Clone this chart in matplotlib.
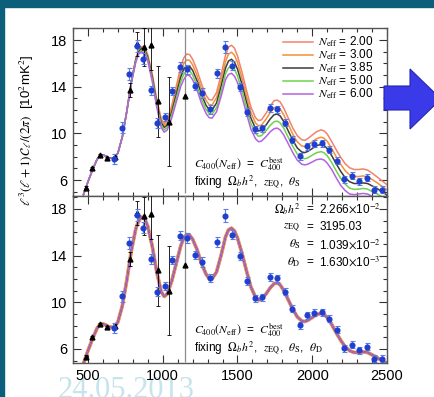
import matplotlib
matplotlib.use("Agg")
import matplotlib.pyplot as plt
from matplotlib.patches import Polygon, Rectangle
from matplotlib.ticker import MultipleLocator, FixedLocator, NullFormatter

plt.rcParams['font.family'] = ['Liberation Sans', 'DejaVu Sans']
plt.rcParams['mathtext.fontset'] = 'stix'

# multipole grid shared by all model curves
ell = [470, 500, 530, 560, 580, 600, 620, 640, 670, 700, 730, 760, 790, 820, 840,
       860, 880, 900, 930, 960, 990, 1010, 1030, 1060, 1090, 1120, 1140, 1160, 1180,
       1200, 1230, 1260, 1290, 1310, 1330, 1360, 1390, 1420, 1440, 1460, 1480, 1500,
       1530, 1560, 1590, 1620, 1640, 1660, 1690, 1720, 1745, 1765, 1785, 1810, 1840,
       1870, 1900, 1930, 1950, 1970, 2000, 2030, 2060, 2080, 2100, 2130, 2160, 2190,
       2220, 2250, 2280, 2310, 2340, 2370, 2400, 2430, 2460, 2490, 2500]

_low = [4.75, 5.85, 6.85, 7.75, 8.1, 8.15, 8.05, 7.9, 7.85, 8.3, 9.7, 11.9]

# model spectra for different N_eff (top panel)
neff_200 = _low + [14.45, 16.4, 17.12, 17.45, 17.35, 16.75, 15.1, 12.93, 11.25, 10.85, 11.1,
                   12.35, 14.0, 15.65, 16.45, 16.8, 16.75, 16.35, 15.4, 14.2, 13.25, 12.9,
                   12.85, 13.5, 15.0, 16.7, 17.4, 17.55, 17.3, 16.65, 15.25, 13.7, 12.25,
                   11.35, 11.1, 11.15, 11.7, 12.35, 12.8, 12.85, 12.7, 12.15, 11.3, 10.45,
                   9.8, 9.45, 9.4, 9.55, 9.85, 10.15, 10.3, 10.2, 9.95, 9.3, 8.6, 7.95,
                   7.4, 7.05, 6.9, 6.9, 6.95, 6.85, 6.6, 6.3, 6.0, 5.7, 5.6]
neff_300 = _low + [14.42, 16.35, 17.06, 17.38, 17.25, 16.62, 14.95, 12.77, 11.08, 10.68, 10.9,
                   12.08, 13.65, 15.22, 15.97, 16.3, 16.25, 15.87, 14.95, 13.75, 12.82, 12.47,
                   12.43, 13.05, 14.5, 16.15, 16.8, 16.95, 16.7, 16.07, 14.72, 13.2, 11.77,
                   10.9, 10.65, 10.7, 11.2, 11.8, 12.2, 12.25, 12.1, 11.57, 10.75, 9.92,
                   9.27, 8.92, 8.87, 9.0, 9.27, 9.55, 9.67, 9.57, 9.32, 8.7, 8.0, 7.35,
                   6.8, 6.45, 6.3, 6.3, 6.35, 6.27, 6.05, 5.8, 5.52, 5.25, 5.15]
neff_385 = _low + [14.4, 16.3, 17.0, 17.3, 17.15, 16.5, 14.8, 12.6, 10.9, 10.5, 10.7,
                   11.8, 13.3, 14.8, 15.5, 15.8, 15.75, 15.4, 14.5, 13.3, 12.4, 12.05,
                   12.0, 12.6, 14.0, 15.6, 16.2, 16.35, 16.1, 15.5, 14.2, 12.7, 11.3,
                   10.45, 10.2, 10.25, 10.7, 11.25, 11.6, 11.65, 11.5, 11.0, 10.2, 9.4,
                   8.75, 8.4, 8.35, 8.45, 8.7, 8.95, 9.05, 8.95, 8.7, 8.1, 7.4, 6.75,
                   6.2, 5.85, 5.7, 5.7, 5.75, 5.7, 5.5, 5.3, 5.05, 4.8, 4.7]
neff_500 = _low + [14.35, 16.2, 16.9, 17.15, 17.0, 16.35, 14.62, 12.42, 10.7, 10.3, 10.5,
                   11.55, 12.95, 14.4, 15.05, 15.4, 15.35, 15.0, 14.1, 12.92, 12.05, 11.7,
                   11.65, 12.2, 13.55, 15.1, 15.62, 15.75, 15.5, 14.92, 13.68, 12.2, 10.83,
                   10.0, 9.75, 9.8, 10.2, 10.7, 11.0, 11.05, 10.9, 10.43, 9.65, 8.88,
                   8.23, 7.88, 7.83, 7.9, 8.13, 8.35, 8.43, 8.33, 8.08, 7.5, 6.8, 6.15,
                   5.65, 5.3, 5.2, 5.22, 5.28, 5.22, 5.02, 4.85, 4.6, 4.35, 4.25]
neff_600 = _low + [14.3, 16.1, 16.8, 17.0, 16.85, 16.2, 14.45, 12.25, 10.5, 10.1, 10.28,
                   11.3, 12.65, 14.0, 14.6, 15.0, 14.95, 14.6, 13.7, 12.55, 11.7, 11.35,
                   11.3, 11.85, 13.15, 14.6, 15.05, 15.15, 14.9, 14.35, 13.15, 11.7, 10.35,
                   9.55, 9.28, 9.33, 9.7, 10.15, 10.4, 10.45, 10.3, 9.85, 9.1, 8.35,
                   7.7, 7.35, 7.3, 7.35, 7.55, 7.75, 7.8, 7.7, 7.45, 6.9, 6.2, 5.55,
                   5.1, 4.8, 4.75, 4.8, 4.85, 4.8, 4.6, 4.45, 4.2, 3.95, 3.85]

# refit spectrum (bottom panel); all N_eff models collapse onto it
refit = neff_385

neff_labels = ['2.00', '3.00', '3.85', '5.00', '6.00']
neff_colors = ['#f2826a', '#f0913c', '#3c3c3c', '#6fd24e', '#b462e4']

# high-ell band powers (blue circles)
spt_ell = [675, 725, 775, 825, 870, 920, 965, 1015, 1065, 1115, 1165, 1215, 1265, 1315,
           1365, 1415, 1465, 1515, 1565, 1615, 1665, 1715, 1765, 1815, 1865, 1915, 1965,
           2015, 2065, 2115, 2165, 2215, 2265, 2315, 2365, 2415, 2465]
spt_val = [7.8, 10.5, 15.1, 17.5, 16.4, 13.7, 10.9, 11.4, 13.6, 15.7, 15.5, 14.05, 13.45,
           12.05, 15.15, 17.4, 15.8, 13.95, 11.8, 10.35, 10.45, 12.15, 12.05, 10.9, 9.45,
           8.05, 8.9, 9.1, 9.15, 8.6, 7.65, 6.05, 6.35, 5.9, 6.2, 5.15, 5.15]
spt_err = [0.45, 0.45, 0.5, 0.5, 0.45, 0.4, 0.4, 0.35, 0.35, 0.4, 0.4, 0.35, 0.4, 0.35,
           0.4, 0.55, 0.4, 0.35, 0.35, 0.3, 0.3, 0.35, 0.3, 0.3, 0.3, 0.3, 0.3, 0.3,
           0.3, 0.3, 0.3, 0.3, 0.3, 0.3, 0.3, 0.3, 0.3]

# lower-ell band powers (black triangles)
wmap_ell = [488, 530, 578, 627, 678, 780, 830, 875, 922, 970, 1045]
wmap_val = [5.35, 7.05, 8.15, 7.85, 7.95, 13.7, 17.65, 17.4, 17.6, 12.75, 11.0]
wmap_err = [0.1, 0.1, 0.1, 0.1, 0.15, 0.6, 1.0, 1.6, 2.2, 3.05, 3.8]

# single very uncertain point (grey)
wide_ell = [1150]
wide_val = [13.2]
wide_err = [8.3]

x_ticks = [500, 1000, 1500, 2000, 2500]
y_ticks = [6, 10, 14, 18]

W, H = 434, 397
fig = plt.figure(figsize=(W / 100, H / 100), dpi=100)

# slide decoration
fig.patches.append(Rectangle((0, 1 - 7 / H), 1, 7 / H, transform=fig.transFigure,
                             color='#0c5f7b', zorder=-5))
fig.patches.append(Rectangle((0, 0), 4 / W, 1, transform=fig.transFigure,
                             color='#0c5f7b', zorder=-5))
arrow_px = [(384, 86), (410, 86), (410, 69), (441, 99), (410, 129), (410, 110), (384, 110)]
fig.patches.append(Polygon([(x / W, 1 - y / H) for x, y in arrow_px], closed=True,
                           transform=fig.transFigure, facecolor='#3a3ae8',
                           edgecolor='#2626b8', lw=0.8, zorder=5))
fig.text(58 / W, 1 - 398 / H, '24.05.2013', family='Liberation Serif', fontsize=22,
         color='#c6e4ec', ha='left', va='baseline', zorder=-1)

ax_top = fig.add_axes([73 / W, 1 - 196 / H, 314 / W, 168 / H])
ax_bot = fig.add_axes([73 / W, 1 - 363 / H, 314 / W, 167 / H])


def style_axes(ax, ylim, show_x):
    ax.set_xlim(400, 2500)
    ax.set_ylim(*ylim)
    ax.xaxis.set_major_locator(FixedLocator(x_ticks))
    ax.xaxis.set_minor_locator(MultipleLocator(100))
    ax.yaxis.set_major_locator(FixedLocator(y_ticks))
    ax.yaxis.set_minor_locator(MultipleLocator(1))
    ax.tick_params(which='both', direction='in', top=True, right=True,
                   color='#333333', width=0.8)
    ax.tick_params(which='major', length=6, labelsize=10.5, pad=4)
    ax.tick_params(which='minor', length=3)
    if not show_x:
        ax.xaxis.set_major_formatter(NullFormatter())
    for s in ax.spines.values():
        s.set_color('#555555')
        s.set_linewidth(1.0)


def draw_data(ax):
    ax.errorbar(wide_ell, wide_val, yerr=wide_err, fmt='^', color='#8c8c8c', ms=3.5,
                mfc='black', mec='black', elinewidth=0.9, capsize=0, zorder=3)
    ax.errorbar(wmap_ell, wmap_val, yerr=wmap_err, fmt='^', color='black', ms=3.5,
                elinewidth=0.6, capsize=1.6, capthick=0.6, zorder=4)
    ax.errorbar(spt_ell, spt_val, yerr=spt_err, fmt='o', color='#1f3fd0', ms=3.4,
                ecolor='#5b7de6', elinewidth=0.8, capsize=1.8, capthick=0.8, zorder=5)


style_axes(ax_top, (4.63, 19.03), False)
style_axes(ax_bot, (4.8, 19.1), True)


def to_top(px, py):
    return (px - 73) / 314, (196 - py) / 168


top_curves = [neff_200, neff_300, neff_385, neff_500, neff_600]
for k, (vals, col, lab) in enumerate(zip(top_curves, neff_colors, neff_labels)):
    ax_top.plot(ell, vals, color=col, lw=1.1, zorder=2)
    # legend entry
    row_y = 42 + 13 * k
    x0, y0 = to_top(283, row_y)
    x1, _ = to_top(313, row_y)
    ax_top.plot([x0, x1], [y0, y0], color=col, lw=1.1, transform=ax_top.transAxes)
    xt, _ = to_top(318, row_y)
    ax_top.text(xt, y0, r'$N_{\rm eff}$ = ' + lab, transform=ax_top.transAxes,
                fontsize=8.5, ha='left', va='center')
draw_data(ax_top)

# bottom panel: the models overlap into a single band
bot_widths = [2.6, 2.1, 1.0, 1.0, 1.0]
bot_order = [0, 1, 3, 2, 4]
for i in bot_order:
    ax_bot.plot(ell, refit, color=neff_colors[i], lw=bot_widths[i], zorder=2)
draw_data(ax_bot)

ax_top.text(0.385, 0.195, r'$C_{400}(N_{\rm eff})$  =  $C_{400}^{\rm best}$',
            transform=ax_top.transAxes, fontsize=8.5, ha='left', va='center')
ax_top.text(0.385, 0.085, r'fixing  $\Omega_b h^2$,  $z_{\rm EQ}$,  $\theta_{\rm S}$',
            transform=ax_top.transAxes, fontsize=8.5, ha='left', va='center')

ax_bot.text(0.385, 0.2, r'$C_{400}(N_{\rm eff})$  =  $C_{400}^{\rm best}$',
            transform=ax_bot.transAxes, fontsize=8.5, ha='left', va='center')
ax_bot.text(0.385, 0.09,
            r'fixing  $\Omega_b h^2$,  $z_{\rm EQ}$,  $\theta_{\rm S}$,  $\theta_{\rm D}$',
            transform=ax_bot.transAxes, fontsize=8.5, ha='left', va='center')

par_left = [r'$\Omega_b h^2$', r'$z_{\rm EQ}$', r'$\theta_{\rm S}$', r'$\theta_{\rm D}$']
par_right = [r'2.266$\times$10$^{-2}$', '3195.03', r'1.039$\times$10$^{-2}$',
             r'1.630$\times$10$^{-3}$']
for k, (lft, rgt) in enumerate(zip(par_left, par_right)):
    yy = 0.922 - k * 0.106
    ax_bot.text(0.725, yy, lft, transform=ax_bot.transAxes, fontsize=8.5,
                ha='right', va='center')
    ax_bot.text(0.755, yy, '=', transform=ax_bot.transAxes, fontsize=8.5,
                ha='center', va='center')
    ax_bot.text(0.785, yy, rgt, transform=ax_bot.transAxes, fontsize=8.5,
                ha='left', va='center')

fig.text(27 / W, 1 - 130 / H,
         r'$\ell^3(\ell+1)\mathcal{C}_\ell/(2\pi)$  [10$^2$mK$^2$]',
         rotation=90, ha='center', va='center', fontsize=9.5)

fig.savefig('out.png', dpi=100, facecolor='white')
